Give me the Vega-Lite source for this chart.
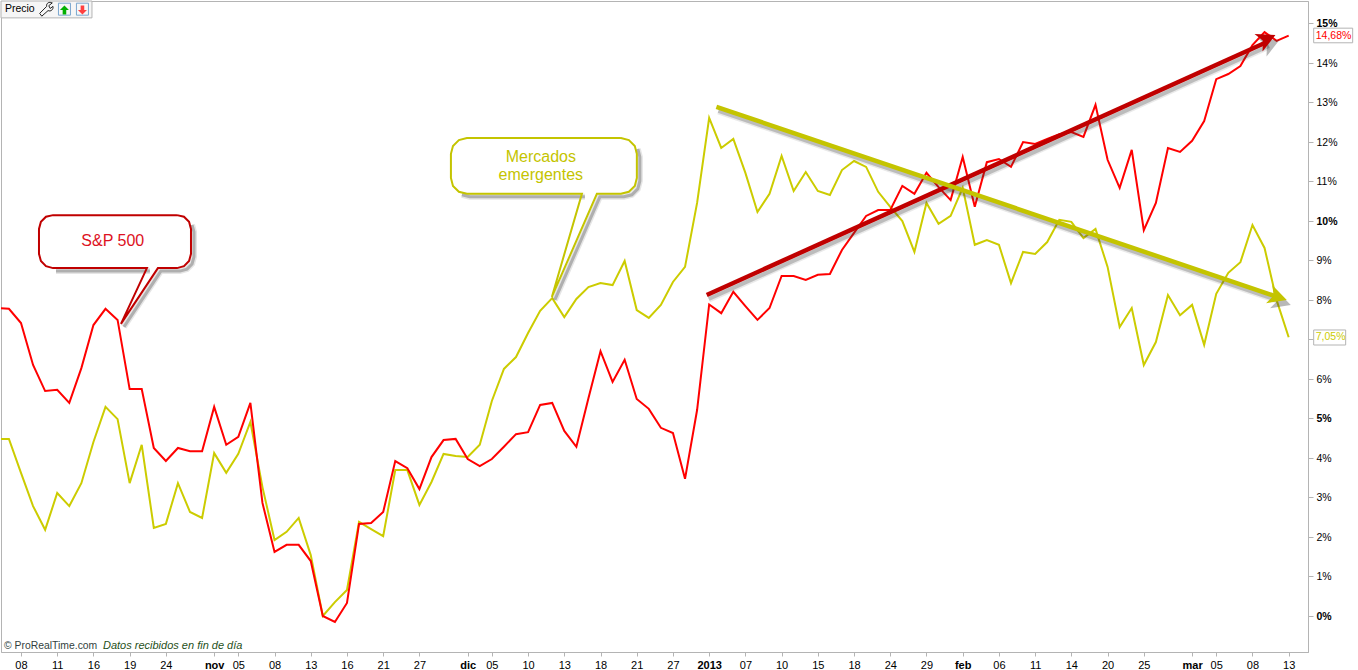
{"$schema":"https://vega.github.io/schema/vega-lite/v6.json","width":1307,"height":651,"autosize":{"type":"none"},"padding":{"left":1,"top":1,"right":50,"bottom":18},"background":"white","config":{"view":{"stroke":"#b4b4b4","strokeWidth":1},"font":"Liberation Sans"},
"datasets":{
"red":[[-2,7.79],[-1,7.77],[0,7.41],[1,6.35],[2,5.69],[3,5.72],[4,5.39],[5,6.27],[6,7.36],[7,7.77],[8,7.49],[9,5.74],[10,5.74],[11,4.25],[12,3.92],[13,4.25],[14,4.17],[15,4.17],[16,5.29],[17,4.33],[18,4.53],[19,5.39],[20,2.86],[21,1.62],[22,1.8],[23,1.8],[24,1.39],[25,0],[26,-0.15],[27,0.33],[28,2.33],[29,2.35],[30,2.63],[31,3.92],[32,3.74],[33,3.21],[34,4.02],[35,4.45],[36,4.48],[37,3.97],[38,3.79],[39,3.97],[40,4.28],[41,4.6],[42,4.65],[43,5.34],[44,5.39],[45,4.68],[46,4.28],[47,5.51],[48,6.7],[49,5.92],[50,6.48],[51,5.49],[52,5.24],[53,4.76],[54,4.63],[55,3.47],[56,5.21],[57,7.88],[58,7.66],[59,8.2],[60,7.84],[61,7.49],[62,7.79],[63,8.6],[64,8.6],[65,8.5],[66,8.63],[67,8.65],[68,9.26],[69,9.69],[70,10.12],[71,10.27],[72,10.27],[73,10.88],[74,10.68],[75,11.21],[76,10.85],[77,10.52],[78,11.61],[79,10.35],[80,11.48],[81,11.56],[82,11.36],[83,11.99],[84,11.94],[85,12.07],[86,12.19],[87,12.24],[88,12.12],[89,12.93],[90,11.54],[91,10.83],[92,11.79],[93,9.76],[94,10.45],[95,11.84],[96,11.74],[97,12.02],[98,12.52],[99,13.58],[100,13.71],[101,13.91],[102,14.44],[103,14.77],[104,14.55],[105,14.68]],
"olive":[[-2,4.48],[-1,4.48],[0,3.62],[1,2.78],[2,2.18],[3,3.11],[4,2.78],[5,3.36],[6,4.4],[7,5.29],[8,4.98],[9,3.36],[10,4.33],[11,2.23],[12,2.33],[13,3.36],[14,2.63],[15,2.48],[16,4.12],[17,3.62],[18,4.1],[19,4.91],[20,3.26],[21,1.92],[22,2.13],[23,2.48],[24,1.54],[25,0],[26,0.35],[27,0.66],[28,2.38],[29,2.2],[30,2.02],[31,3.69],[32,3.69],[33,2.81],[34,3.39],[35,4.1],[36,4.05],[37,4.02],[38,4.33],[39,5.44],[40,6.25],[41,6.55],[42,7.16],[43,7.72],[44,8.04],[45,7.56],[46,8.02],[47,8.32],[48,8.42],[49,8.37],[50,8.98],[51,7.74],[52,7.54],[53,7.87],[54,8.45],[55,8.83],[56,10.45],[57,12.6],[58,11.84],[59,12.07],[60,11.21],[61,10.22],[62,10.68],[63,11.64],[64,10.75],[65,11.23],[66,10.75],[67,10.65],[68,11.28],[69,11.51],[70,11.36],[71,10.73],[72,10.35],[73,9.99],[74,9.21],[75,10.45],[76,9.92],[77,10.12],[78,10.83],[79,9.39],[80,9.51],[81,9.39],[82,8.42],[83,9.21],[84,9.16],[85,9.46],[86,10.02],[87,9.97],[88,9.56],[89,9.79],[90,8.83],[91,7.31],[92,7.79],[93,6.35],[94,6.93],[95,8.12],[96,7.61],[97,7.87],[98,6.86],[99,8.15],[100,8.68],[101,8.95],[102,9.89],[103,9.31],[104,7.99],[105,7.05]],
"spCallout":[[12.92,10.14],[13.5,10.1],[13.92,9.97],[14.08,9.79],[14.08,9.16],[13.92,8.98],[13.5,8.85],[12.92,8.8],[11.34,8.8],[8.28,7.39],[10.43,8.8],[2.65,8.8],[2.07,8.85],[1.65,8.98],[1.49,9.16],[1.49,9.79],[1.65,9.97],[2.07,10.1],[2.65,10.14],[12.92,10.14]],
"emCallout":[[49.69,12.09],[50.35,12.04],[50.84,11.89],[51.01,11.69],[51.01,11.08],[50.84,10.88],[50.35,10.73],[49.69,10.68],[47.7,10.68],[43.97,8.07],[46.46,10.68],[36.93,10.68],[36.27,10.73],[35.78,10.88],[35.61,11.08],[35.61,11.69],[35.78,11.89],[36.27,12.04],[36.93,12.09],[49.69,12.09]],
"shadowSeg":[[1,"a",13.92,9.97],[2,"a",14.08,9.79],[3,"a",14.08,9.16],[4,"a",13.92,8.98],[5,"a",13.5,8.85],[6,"a",12.92,8.8],[7,"a",11.34,8.8],[8,"a",8.28,7.39],[1,"b",10.43,8.8],[2,"b",2.65,8.8],[1,"c",50.84,11.89],[2,"c",51.01,11.69],[3,"c",51.01,11.08],[4,"c",50.84,10.88],[5,"c",50.35,10.73],[6,"c",49.69,10.68],[7,"c",47.7,10.68],[8,"c",43.97,8.07],[1,"d",46.46,10.68],[2,"d",36.93,10.68],[3,"d",36.27,10.73]],
"arrowR":[[56.8,8.12],[103.2,14.52]],
"arrowO":[[57.6,12.88],[103.9,8.09]],
"headR":[{"k":103.0,"pct":14.57}],
"headO":[{"k":103.9,"pct":8.09}],
"boxR":[{"k":107.07,"k2":110.3,"pct":14.87,"pct2":14.5}],
"boxO":[{"k":107.07,"k2":109.72,"pct":7.235,"pct2":6.855}],
"labelR":[{"k":107.24,"pct":14.68,"t":"14,68%"}],
"labelO":[{"k":107.24,"pct":7.05,"t":"7,05%"}],
"textR":[{"k":7.6,"pct":9.48,"t":"S&P 500"}],
"textO":[{"k":43.06,"pct":11.61,"t":"Mercados"},{"k":43.06,"pct":11.15,"t":"emergentes"}],
"foot1":[{"k":-1.41,"pct":-0.76,"t":"© ProRealTime.com"}],
"foot2":[{"k":6.79,"pct":-0.76,"t":"Datos recibidos en fin de día"}],
"bar":[{"k":-1.656,"k2":5.88,"pct":15.557,"pct2":15.13}],
"precio":[{"k":-1.33,"pct":15.35,"t":"Precio"}],
"wrench":[{"k":2.07,"pct":15.35}],
"page":[{"k":3.6,"pct":15.35},{"k":5.09,"pct":15.35}],
"up":[{"k":3.6,"pct":15.33}],
"down":[{"k":5.09,"pct":15.33}]
},
"encoding":{
"x":{"field":"k","type":"quantitative","title":null,"scale":{"domain":[-1.656,106.6],"nice":false,"zero":false},"axis":{"grid":false,"values":[0,3,6,9,12,16,18,21,24,27,30,33,37,39,42,45,48,51,54,57,60,63,66,69,72,75,78,81,84,87,90,93,97,99,102,105],"labelExpr":"{'0':'08','3':'11','6':'16','9':'19','12':'24','16':'nov','18':'05','21':'08','24':'13','27':'16','30':'21','33':'27','37':'dic','39':'05','42':'10','45':'13','48':'18','51':'21','54':'27','57':'2013','60':'07','63':'10','66':'15','69':'18','72':'24','75':'29','78':'feb','81':'06','84':'11','87':'14','90':'20','93':'25','97':'mar','99':'05','102':'08','105':'13'}[''+datum.value]","labelFontWeight":{"condition":{"test":"indexof([16,37,57,78,97],datum.value)>=0","value":"bold"},"value":"normal"},"labelFont":"Liberation Sans","labelFontSize":11,"labelColor":"#000","labelPadding":3,"labelOverlap":false,"labelFlush":false,"domainColor":"#b4b4b4","tickColor":"#b4b4b4","tickSize":4}},
"y":{"field":"pct","type":"quantitative","title":null,"scale":{"domain":[-0.911,15.557],"nice":false,"zero":false},"axis":{"orient":"right","grid":false,"values":[0,1,2,3,4,5,6,7,8,9,10,11,12,13,14,15],"labelExpr":"datum.value+'%'","labelFontWeight":{"condition":{"test":"datum.value%5==0","value":"bold"},"value":"normal"},"labelFont":"Liberation Sans","labelFontSize":10.5,"labelColor":"#000","labelPadding":3,"labelOffset":0.5,"labelOverlap":false,"labelFlush":false,"domainColor":"#b4b4b4","tickColor":"#b4b4b4","tickSize":5}}
},
"layer":[
{"data":{"name":"olive"},"transform":[{"calculate":"datum[0]","as":"k"},{"calculate":"datum[1]","as":"pct"}],"mark":{"type":"line","clip":true,"color":"#CCCC00","strokeWidth":2}},
{"data":{"name":"red"},"transform":[{"calculate":"datum[0]","as":"k"},{"calculate":"datum[1]","as":"pct"}],"mark":{"type":"line","clip":true,"color":"#FF0000","strokeWidth":2}},
{"data":{"name":"shadowSeg"},"transform":[{"calculate":"datum[0]","as":"ord"},{"calculate":"datum[1]","as":"seg"},{"calculate":"datum[2]","as":"k"},{"calculate":"datum[3]","as":"pct"}],"mark":{"type":"line","color":"#333","strokeWidth":6,"opacity":0.13,"xOffset":3,"yOffset":3},"encoding":{"detail":{"field":"seg"},"order":{"field":"ord"}}},
{"data":{"name":"shadowSeg"},"transform":[{"calculate":"datum[0]","as":"ord"},{"calculate":"datum[1]","as":"seg"},{"calculate":"datum[2]","as":"k"},{"calculate":"datum[3]","as":"pct"}],"mark":{"type":"line","color":"#333","strokeWidth":3,"opacity":0.3,"xOffset":3,"yOffset":3},"encoding":{"detail":{"field":"seg"},"order":{"field":"ord"}}},
{"data":{"name":"spCallout"},"transform":[{"window":[{"op":"row_number","as":"ord"}]},{"calculate":"datum[0]","as":"k"},{"calculate":"datum[1]","as":"pct"}],"mark":{"type":"line","color":"#C00000","strokeWidth":2},"encoding":{"order":{"field":"ord"}}},
{"data":{"name":"emCallout"},"transform":[{"window":[{"op":"row_number","as":"ord"}]},{"calculate":"datum[0]","as":"k"},{"calculate":"datum[1]","as":"pct"}],"mark":{"type":"line","color":"#C4C400","strokeWidth":2},"encoding":{"order":{"field":"ord"}}},
{"data":{"name":"arrowR"},"transform":[{"calculate":"datum[0]","as":"k"},{"calculate":"datum[1]","as":"pct"}],"mark":{"type":"line","color":"#333","strokeWidth":7,"opacity":0.1,"xOffset":2,"yOffset":4}},
{"data":{"name":"arrowR"},"transform":[{"calculate":"datum[0]","as":"k"},{"calculate":"datum[1]","as":"pct"}],"mark":{"type":"line","color":"#333","strokeWidth":4,"opacity":0.25,"xOffset":2,"yOffset":4}},
{"data":{"name":"arrowO"},"transform":[{"calculate":"datum[0]","as":"k"},{"calculate":"datum[1]","as":"pct"}],"mark":{"type":"line","color":"#333","strokeWidth":7,"opacity":0.1,"xOffset":2,"yOffset":4}},
{"data":{"name":"arrowO"},"transform":[{"calculate":"datum[0]","as":"k"},{"calculate":"datum[1]","as":"pct"}],"mark":{"type":"line","color":"#333","strokeWidth":4,"opacity":0.25,"xOffset":2,"yOffset":4}},
{"data":{"name":"headR"},"mark":{"type":"point","filled":true,"shape":"M1,0 L-0.55,-0.8 L-0.15,0 L-0.55,0.8 Z","size":576,"angle":335.4,"color":"#333","opacity":0.35,"xOffset":4,"yOffset":5,"strokeWidth":0}},
{"data":{"name":"headO"},"mark":{"type":"point","filled":true,"shape":"M1,0 L-0.55,-0.8 L-0.15,0 L-0.55,0.8 Z","size":576,"angle":18.7,"color":"#333","opacity":0.35,"xOffset":4,"yOffset":5,"strokeWidth":0}},
{"data":{"name":"arrowR"},"transform":[{"calculate":"datum[0]","as":"k"},{"calculate":"datum[1]","as":"pct"}],"mark":{"type":"line","color":"#C00000","strokeWidth":4.5}},
{"data":{"name":"headR"},"mark":{"type":"point","filled":true,"shape":"M1,0 L-0.55,-0.8 L-0.15,0 L-0.55,0.8 Z","size":576,"angle":335.4,"color":"#C00000","opacity":1,"strokeWidth":0}},
{"data":{"name":"arrowO"},"transform":[{"calculate":"datum[0]","as":"k"},{"calculate":"datum[1]","as":"pct"}],"mark":{"type":"line","color":"#C4C400","strokeWidth":4.5}},
{"data":{"name":"headO"},"mark":{"type":"point","filled":true,"shape":"M1,0 L-0.55,-0.8 L-0.15,0 L-0.55,0.8 Z","size":576,"angle":18.7,"color":"#C4C400","opacity":1,"strokeWidth":0}},
{"data":{"name":"textR"},"mark":{"type":"text","font":"Liberation Sans","fontSize":16,"color":"#DD1122"},"encoding":{"text":{"field":"t"}}},
{"data":{"name":"textO"},"mark":{"type":"text","font":"Liberation Sans","fontSize":16,"color":"#C4C400"},"encoding":{"text":{"field":"t"}}},
{"data":{"name":"boxR"},"mark":{"type":"rect","fill":"white","stroke":"#b4b4b4","strokeWidth":1},"encoding":{"x2":{"field":"k2"},"y2":{"field":"pct2"}}},
{"data":{"name":"boxO"},"mark":{"type":"rect","fill":"white","stroke":"#b4b4b4","strokeWidth":1},"encoding":{"x2":{"field":"k2"},"y2":{"field":"pct2"}}},
{"data":{"name":"labelR"},"mark":{"type":"text","align":"left","font":"Liberation Sans","fontSize":10.5,"color":"#FF0000"},"encoding":{"text":{"field":"t"}}},
{"data":{"name":"labelO"},"mark":{"type":"text","align":"left","font":"Liberation Sans","fontSize":10.5,"color":"#CCCC00"},"encoding":{"text":{"field":"t"}}},
{"data":{"name":"foot1"},"mark":{"type":"text","align":"left","font":"Liberation Sans","fontSize":10.4,"color":"#333F40"},"encoding":{"text":{"field":"t"}}},
{"data":{"name":"foot2"},"mark":{"type":"text","align":"left","font":"Liberation Sans","fontSize":11,"fontStyle":"italic","color":"#1F5020"},"encoding":{"text":{"field":"t"}}},
{"data":{"name":"bar"},"mark":{"type":"rect","fill":"#f6f6f6","stroke":"#b4b4b4","strokeWidth":1},"encoding":{"x2":{"field":"k2"},"y2":{"field":"pct2"}}},
{"data":{"name":"precio"},"mark":{"type":"text","align":"left","font":"Liberation Sans","fontSize":10.5,"color":"#000"},"encoding":{"text":{"field":"t"}}},
{"data":{"name":"wrench"},"mark":{"type":"point","filled":false,"shape":"M-0.9,0.6 L0.1,-0.4 C0,-0.9 0.5,-1.1 0.9,-0.9 L0.4,-0.5 L0.6,-0.1 L1,-0.4 C1.1,0 0.7,0.4 0.3,0.2 L-0.6,1 Z","size":196,"color":"#222","strokeWidth":1,"opacity":1}},
{"data":{"name":"page"},"mark":{"type":"point","filled":false,"shape":"square","size":144,"color":"#7AA7CF","strokeWidth":1,"opacity":1}},
{"data":{"name":"up"},"mark":{"type":"point","filled":true,"shape":"M0,-1 L1,0 L0.4,0 L0.4,1 L-0.4,1 L-0.4,0 L-1,0 Z","size":81,"color":"#00B000","strokeWidth":0,"opacity":1}},
{"data":{"name":"down"},"mark":{"type":"point","filled":true,"shape":"M0,1 L1,0 L0.4,0 L0.4,-1 L-0.4,-1 L-0.4,0 L-1,0 Z","size":81,"color":"#FF4040","strokeWidth":0,"opacity":1}}
]}
